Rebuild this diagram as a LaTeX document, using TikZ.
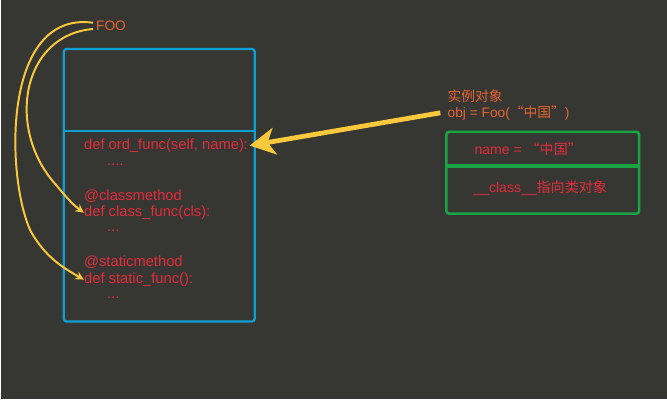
\documentclass[tikz,border=0pt]{standalone}
\usepackage{fontspec}
\setmainfont{Liberation Sans}
\newfontfamily\cjk{Noto Sans CJK SC}
\usetikzlibrary{arrows.meta,positioning}

\definecolor{bggray}{RGB}{54,54,50}
\definecolor{boxblue}{RGB}{15,160,210}
\definecolor{boxgreen}{RGB}{25,165,70}
\definecolor{codered}{RGB}{225,45,60}
\definecolor{lblorange}{RGB}{230,100,50}
\definecolor{penyellow}{RGB}{250,200,60}

\begin{document}
\begin{tikzpicture}[x=0.025cm, y=-0.025cm, >={Stealth[length=6pt,width=6pt]},
    code/.style={text=codered, anchor=west, inner sep=0pt, font=\fontsize{10.5}{12}\selectfont},
    lbl/.style={text=lblorange, anchor=west, inner sep=0pt, font=\fontsize{9.8}{11}\selectfont},
    pen/.style={draw=penyellow, line width=1.4pt, shorten <=2pt, ->}]
    \fill [bggray] (0,0) rectangle (667,400);

    % Boxes {cls, obj}
    \node [draw=boxblue, line width=1.6pt, rounded corners=2pt,
           minimum width=4.775cm, minimum height=6.825cm] (cls) at (158.5,185.5) {};
    \node [draw=boxgreen, line width=1.8pt, rounded corners=2pt,
           minimum width=4.825cm, minimum height=2.05cm] (obj) at (542.5,173) {};
    \draw [boxblue, line width=1.8pt] (cls.west |- 0,131) -- (cls.east |- 0,131);
    \draw [boxgreen, line width=2.6pt] (obj.west |- 0,166) -- (obj.east |- 0,166);

    % Nodes {FOO, methods, instance}
    \node [lbl]  (FOO)        at (95,26)   {FOO};
    \node [code] (ordfunc)    at (83,146)  {def ord\_func(self, name):};
    \node [code] (dotsa)      at (106,165) {....};
    \node [code] (classdeco)  at (83,196)  {@classmethod};
    \node [code] (classfunc)  at (83,213)  {def class\_func(cls):};
    \node [code] (dotsb)      at (106,231) {...};
    \node [code] (staticdeco) at (83,263)  {@staticmethod};
    \node [code] (staticfunc) at (83,280)  {def static\_func():};
    \node [code] (dotsc)      at (106,298) {...};

    \node [lbl]  (objname)    at (447,96)  {\cjk 实例对象};
    \node [lbl]  (objcall)    at (447,113) {obj = Foo({\cjk “中国”})};
    \node [code, anchor=center, font=\fontsize{10}{12}\selectfont] (objattr)  at (528,149) {name = {\cjk “中国”}};
    \node [code, anchor=center, font=\fontsize{10}{12}\selectfont] (objclass) at (540,188) {\_\_class\_\_{\cjk 指向类对象}};

    % Paths
    \path [pen] ([yshift=2pt]FOO.west) .. controls (0,10) and (5,180) .. (30,232)
                .. controls (45,258) and (62,268) .. (staticfunc.west);
    \path [pen] ([yshift=-2pt]FOO.west) .. controls (20,35) and (5,130) .. (55,185)
                .. controls (65,197) and (72,205) .. (classfunc.west);
    \draw [penyellow, line width=3.4pt, shorten >=1pt, -{Stealth[length=18pt,width=19pt,inset=5pt]}]
          ([xshift=-5pt]objcall.west) -- (ordfunc.east);

\end{tikzpicture}
\end{document}
